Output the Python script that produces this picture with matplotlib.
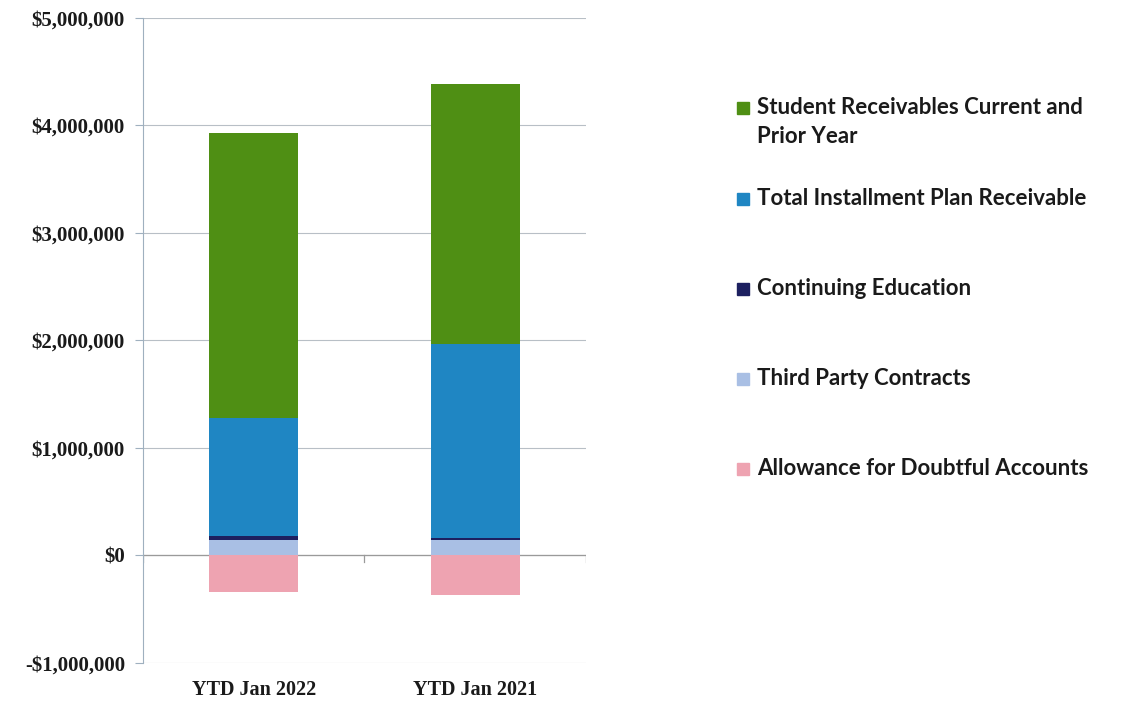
import matplotlib
matplotlib.use("Agg")
import matplotlib.pyplot as plt
from matplotlib.patches import Rectangle
from matplotlib.ticker import FuncFormatter

categories = ["YTD Jan 2022", "YTD Jan 2021"]
series_names = [
    "Student Receivables Current and\nPrior Year",
    "Total Installment Plan Receivable",
    "Continuing Education",
    "Third Party Contracts",
    "Allowance for Doubtful Accounts",
]
third_party = [140000, 140000]
continuing_ed = [45000, 20000]
installment = [1095000, 1810000]
student_recv = [2650000, 2420000]
allowance = [-340000, -370000]

colors = {
    "student": "#4f8f14",
    "install": "#1f86c3",
    "cont": "#1d2060",
    "third": "#a9bfe4",
    "allow": "#eea3b1",
}

fig = plt.figure(figsize=(11.23, 7.08), dpi=100)
ax = fig.add_axes([0.1273, 0.0636, 0.3945, 0.911])

x = list(range(len(categories)))
w = 0.40
b0 = [0] * len(x)
ax.bar(x, third_party, w, bottom=b0, color=colors["third"], zorder=3)
b1 = [a + b for a, b in zip(b0, third_party)]
ax.bar(x, continuing_ed, w, bottom=b1, color=colors["cont"], zorder=3)
b2 = [a + b for a, b in zip(b1, continuing_ed)]
ax.bar(x, installment, w, bottom=b2, color=colors["install"], zorder=3)
b3 = [a + b for a, b in zip(b2, installment)]
ax.bar(x, student_recv, w, bottom=b3, color=colors["student"], zorder=3)
ax.bar(x, allowance, w, color=colors["allow"], zorder=3)

ax.set_xlim(-0.5, 1.5)
ax.set_ylim(-1000000, 5000000)
ax.set_yticks(range(-1000000, 5000001, 1000000))
ax.yaxis.set_major_formatter(FuncFormatter(
    lambda v, p: ("-$" if v < 0 else "$") + f"{abs(int(v)):,}"))
ax.grid(axis="y", color="#b8bfc6", linewidth=0.8, zorder=0)
for s in ["top", "right", "bottom"]:
    ax.spines[s].set_visible(False)
ax.spines["left"].set_color("#9fb0bf")
ax.spines["left"].set_linewidth(0.8)
ax.tick_params(axis="y", length=6, color="#9fb0bf", pad=7)
ax.tick_params(axis="x", length=0, pad=12)
ax.axhline(0, color="#9a9a9a", linewidth=0.9, zorder=2)
for xt in [-0.5, 0.5, 1.5]:
    ax.plot([xt, xt], [0, -60000], color="#9a9a9a", linewidth=0.9, zorder=2)
ax.set_xticks(x)
ax.set_xticklabels(categories)
for lbl in ax.get_yticklabels():
    lbl.set_fontfamily("Liberation Serif")
    lbl.set_fontweight("bold")
    lbl.set_fontsize(15)
    lbl.set_color("#1a1a1a")
for lbl in ax.get_xticklabels():
    lbl.set_fontfamily("Liberation Serif")
    lbl.set_fontweight("bold")
    lbl.set_fontsize(14.5)
    lbl.set_color("#1a1a1a")

# legend drawn manually
leg_colors = [colors["student"], colors["install"], colors["cont"], colors["third"], colors["allow"]]
leg_y = [108, 199, 289, 379, 469]
W, H = 1123, 708
for name, c, yp in zip(series_names, leg_colors, leg_y):
    fig.add_artist(Rectangle((737 / W, 1 - (yp + 6) / H), 12 / W, 12 / H,
                             transform=fig.transFigure, color=c))
    fig.text(757 / W, 1 - (yp - 11) / H, name, fontfamily="Lato", fontweight="bold",
             fontsize=16, color="#1a1a1a", va="top", ha="left", linespacing=1.45)

fig.savefig("out.png", dpi=100, facecolor="white")
